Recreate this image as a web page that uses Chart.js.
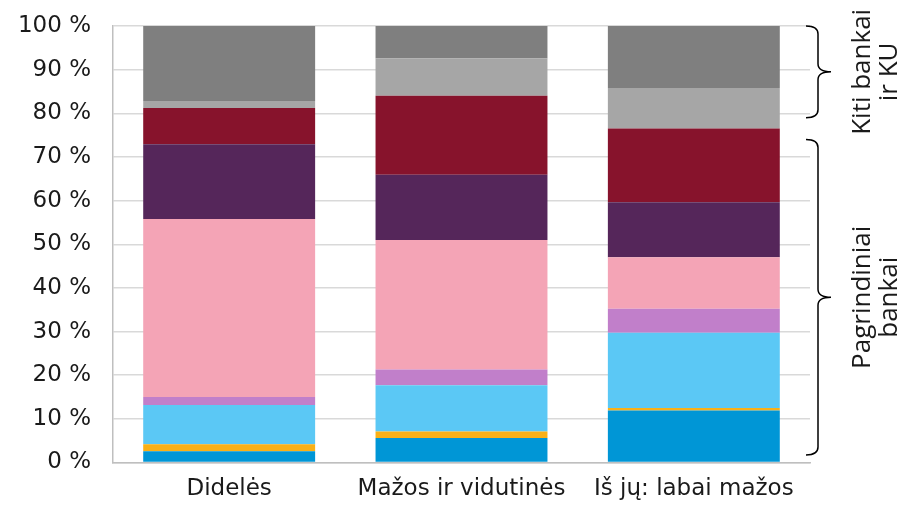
<!DOCTYPE html>
<html>
<head>
<meta charset="utf-8">
<script src="https://cdn.jsdelivr.net/npm/chart.js@4"></script>
<style>
  html, body { margin: 0; padding: 0; background: #fff; }
  #wrap { width: 906px; height: 507px; }
</style>
</head>
<body>
<div id="wrap"><canvas id="c" width="906" height="507"></canvas></div>
<script>
// kategorijos
var categories = ['Didelės', 'Mažos ir vidutinės', 'Iš jų: labai mažos'];

// serijos (proc.), nuo apačios į viršų
var s1 = [2.6, 5.6, 11.9];
var s2 = [1.6, 1.5, 0.6];
var s3 = [9.0, 10.6, 17.2];
var s4 = [1.8, 3.6, 5.5];
var s5 = [40.8, 29.7, 11.8];
var s6 = [17.1, 14.9, 12.6];
var s7 = [8.3, 18.1, 16.9];
var s8 = [1.6, 8.6, 9.3];
var s9 = [17.2, 7.4, 14.2];

var colors = ['#0096D6', '#F9B017', '#5BC8F5', '#C17FCA', '#F4A4B6', '#55265A', '#87132C', '#A6A6A6', '#7F7F7F'];
var yTicks = [0, 10, 20, 30, 40, 50, 60, 70, 80, 90, 100];

// skliaustų grupės (ribos procentais)
var groups = [
  { from: 100, to: 79, lines: ['Kiti bankai', 'ir KU'] },
  { from: 74, to: 1.7, lines: ['Pagrindiniai', 'bankai'] }
];

var FONT = 'DejaVu Sans, Verdana, sans-serif';
var TXT = '#1a1a1a';

var seriesList = [s1, s2, s3, s4, s5, s6, s7, s8, s9];
var datasets = seriesList.map(function (d, i) {
  return {
    label: 'Serija ' + (i + 1),
    data: d,
    backgroundColor: colors[i],
    borderWidth: 0,
    barPercentage: 0.74,
    categoryPercentage: 1.0
  };
});

var bracePlugin = {
  id: 'braces',
  afterDraw: function (chart) {
    var ctx = chart.ctx;
    var y = chart.scales.y;
    var right = chart.chartArea.right;
    var x0 = right - 4, x1 = right + 8, x2 = right + 21;
    ctx.save();
    ctx.strokeStyle = '#000';
    ctx.lineWidth = 1.5;
    groups.forEach(function (g) {
      var top = y.getPixelForValue(g.from);
      var bot = y.getPixelForValue(g.to);
      var mid = (top + bot) / 2;
      var r = 8;
      ctx.beginPath();
      ctx.moveTo(x0, top);
      ctx.quadraticCurveTo(x1, top, x1, top + r);
      ctx.lineTo(x1, mid - r);
      ctx.quadraticCurveTo(x1, mid, x2, mid);
      ctx.quadraticCurveTo(x1, mid, x1, mid + r);
      ctx.lineTo(x1, bot - r);
      ctx.quadraticCurveTo(x1, bot, x0, bot);
      ctx.stroke();

      ctx.fillStyle = TXT;
      ctx.font = '26px "Open Sans", sans-serif';
      ctx.textAlign = 'center';
      ctx.textBaseline = 'middle';
      g.lines.forEach(function (t, k) {
        ctx.save();
        ctx.translate(right + 53 + k * 27, mid);
        ctx.rotate(-Math.PI / 2);
        ctx.fillText(t, 0, 0);
        ctx.restore();
      });
    });
    ctx.restore();
  }
};

new Chart(document.getElementById('c'), {
  type: 'bar',
  data: { labels: categories, datasets: datasets },
  options: {
    responsive: false,
    animation: false,
    maintainAspectRatio: false,
    layout: { padding: { top: 26, right: 96, left: 0, bottom: 0 } },
    plugins: { legend: { display: false }, tooltip: { enabled: false } },
    scales: {
      x: {
        stacked: true,
        grid: { display: false, drawTicks: false },
        border: { color: '#BFBFBF', width: 1.5 },
        ticks: {
          color: TXT, font: { family: FONT, size: 23 },
          maxRotation: 0, autoSkip: false, padding: 13
        },
        afterFit: function (s) { s.height = 44.5; s.paddingLeft = 0; s.paddingRight = 0; }
      },
      y: {
        stacked: true,
        min: 0, max: 100,
        afterBuildTicks: function (s) { s.ticks = yTicks.map(function (v) { return { value: v }; }); },
        grid: { color: '#D9D9D9', lineWidth: 1.5, drawTicks: false },
        border: { color: '#BFBFBF', width: 1.5 },
        ticks: {
          color: TXT, font: { family: FONT, size: 23 }, padding: 22,
          callback: function (v) { return v + ' %'; }
        },
        afterFit: function (s) { s.width = 113; s.paddingTop = 0; s.paddingBottom = 0; }
      }
    }
  },
  plugins: [bracePlugin]
});
</script>
</body>
</html>
